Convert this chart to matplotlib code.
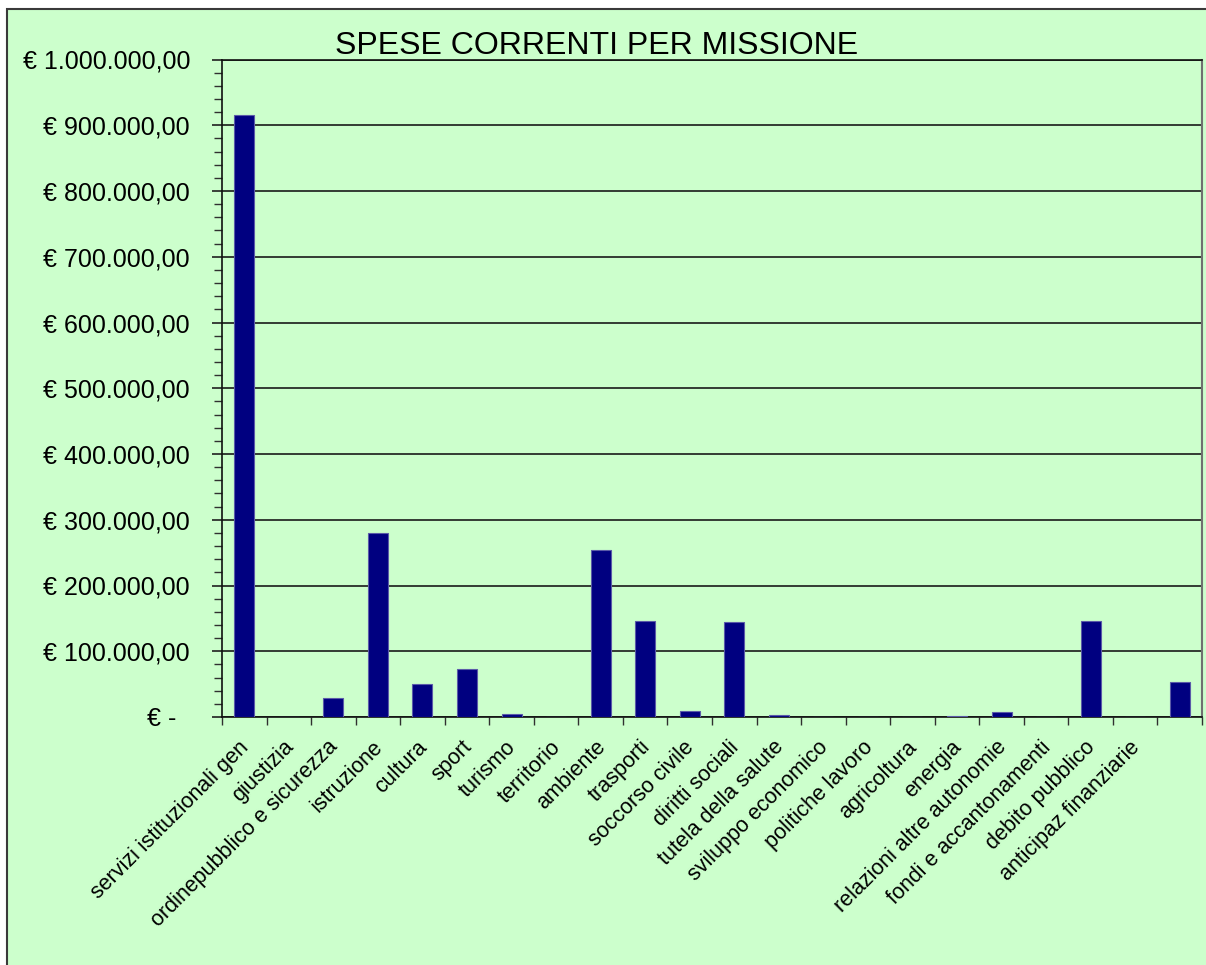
import matplotlib
matplotlib.use("Agg")
import matplotlib.pyplot as plt
import matplotlib.patches as mpatches
from matplotlib.transforms import ScaledTranslation
from matplotlib.ticker import FixedLocator, MultipleLocator
import numpy as np

plt.rcParams['font.family'] = ['Liberation Sans', 'DejaVu Sans']

# ---- data ----
categories = [
    "servizi istituzionali gen", "giustizia", "ordinepubblico e sicurezza",
    "istruzione", "cultura", "sport", "turismo", "territorio", "ambiente",
    "trasporti", "soccorso civile", "diritti sociali", "tutela della salute",
    "sviluppo economico", "politiche lavoro", "agricoltura", "energia",
    "relazioni altre autonomie", "fondi e accantonamenti", "debito pubblico",
    "anticipaz finanziarie", "",
]
values = [
    916000, 0, 28500, 280000, 49800, 73000, 4100, 0, 253700, 145600,
    9100, 145000, 2600, 0, 500, 0, 1500, 7600, 0, 146100, 0, 53700,
]
y_ticks = [0, 100000, 200000, 300000, 400000, 500000, 600000, 700000,
           800000, 900000, 1000000]
y_tick_labels = ["€ -  ", "€ 100.000,00", "€ 200.000,00", "€ 300.000,00",
                 "€ 400.000,00", "€ 500.000,00", "€ 600.000,00",
                 "€ 700.000,00", "€ 800.000,00", "€ 900.000,00",
                 "€ 1.000.000,00"]
title = "SPESE CORRENTI PER MISSIONE"

GREEN = "#CCFFCC"
NAVY = "#000080"

W, H = 1206, 965
fig = plt.figure(figsize=(W / 100, H / 100), dpi=100, facecolor="white")

# chart area background with border (top/left visible)
bg = mpatches.Rectangle((7 / W, 0 - 0.02), 1.05, 1 - 9 / H + 0.02,
                        transform=fig.transFigure, facecolor=GREEN,
                        edgecolor="#3a3a3a", linewidth=1.5, zorder=-10)
fig.patches.append(bg)

left, right = 222 / W, 1202 / W
top, bottom = 1 - 59.5 / H, 1 - 717 / H
ax = fig.add_axes([left, bottom, right - left, top - bottom])
ax.set_facecolor(GREEN)

x = np.arange(len(categories))
ax.bar(x, values, width=0.45, color=NAVY, edgecolor="#5a5aa8",
       linewidth=0.8, zorder=3)

ax.set_xlim(-0.5, len(categories) - 0.5)
ax.set_ylim(0, 1000000)

# y axis
ax.set_yticks(y_ticks)
ax.set_yticklabels(y_tick_labels, fontsize=18)
ax.yaxis.set_minor_locator(MultipleLocator(20000))
ax.tick_params(axis="y", which="major", direction="out", length=7,
               width=1.2, color="#202020", pad=16)
ax.tick_params(axis="y", which="minor", direction="out", length=6,
               width=1.0, color="#303030")
ax.yaxis.grid(True, which="major", color="#1a1a1a", linewidth=1.2, zorder=1)
ax.set_axisbelow(True)

# x axis: labels at centers, ticks at boundaries
ax.set_xticks(x)
ax.set_xticklabels(categories, fontsize=15.5)
ax.xaxis.set_minor_locator(FixedLocator(np.arange(-0.5, len(categories), 1.0)))
ax.tick_params(axis="x", which="major", length=0, pad=19.5)
ax.tick_params(axis="x", which="minor", direction="out", length=6,
               width=1.0, color="#303030")
offset = ScaledTranslation(1.5 / 100, 0, fig.dpi_scale_trans)
for lab in ax.get_xticklabels():
    lab.set_rotation(45)
    lab.set_ha("right")
    lab.set_va("center")
    lab.set_rotation_mode("anchor")
    lab.set_transform(lab.get_transform() + offset)

for s in ["left", "bottom", "top"]:
    ax.spines[s].set_color("#101010")
    ax.spines[s].set_linewidth(1.2)
ax.spines["right"].set_color("#707070")
ax.spines["right"].set_linewidth(1.5)

fig.text(597 / W, 1 - 54 / H, title, fontsize=23, ha="center",
         va="baseline", color="black")

fig.savefig("out.png", dpi=100, facecolor="white")
